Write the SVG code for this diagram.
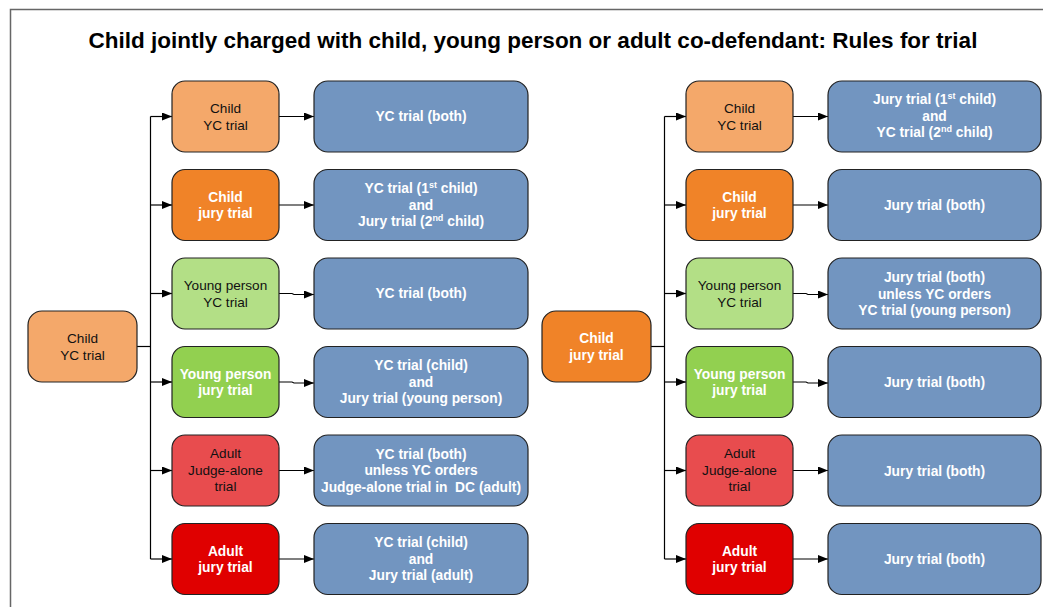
<svg xmlns="http://www.w3.org/2000/svg" width="1043" height="607" viewBox="0 0 1043 607">
<defs>
<marker id="ah" viewBox="0 0 10 8" refX="10" refY="4" markerWidth="10" markerHeight="8" markerUnits="userSpaceOnUse" orient="auto">
<path d="M0,0 L10,4 L0,8 Z" fill="#000"/>
</marker>
</defs>
<style>
.box{stroke:#222;stroke-width:1.2}
.lo{fill:#F4A86A}.or{fill:#F08328}.lg{fill:#B3DF86}.gr{fill:#92D050}.lr{fill:#E84C4E}.rd{fill:#E00000}.bl{fill:#7295C0}
text{font-family:"Liberation Sans",Arial,sans-serif;font-size:13.6px;text-anchor:middle}
.dk{fill:#111}
.wt{fill:#fff;font-weight:bold;font-size:13.8px}
.sup{font-size:9px}
.title{font-size:22.5px;font-weight:bold;fill:#000}
.conn line,.conn path{stroke:#000;stroke-width:1.2;fill:none}
</style>
<rect x="10.5" y="9.5" width="1100" height="700" fill="#fff" stroke="#666" stroke-width="1.5"/>
<text class="title" x="533" y="48">Child jointly charged with child, young person or adult co-defendant: Rules for trial</text>

<g id="connectors" class="conn">
<line x1="137" y1="346.5" x2="150.5" y2="346.5"/>
<line x1="150.5" y1="116.5" x2="150.5" y2="559"/>
<line x1="150.5" y1="116.5" x2="172" y2="116.5" marker-end="url(#ah)"/>
<line x1="150.5" y1="205" x2="172" y2="205" marker-end="url(#ah)"/>
<line x1="150.5" y1="293.5" x2="172" y2="293.5" marker-end="url(#ah)"/>
<line x1="150.5" y1="382" x2="172" y2="382" marker-end="url(#ah)"/>
<line x1="150.5" y1="470.5" x2="172" y2="470.5" marker-end="url(#ah)"/>
<line x1="150.5" y1="559" x2="172" y2="559" marker-end="url(#ah)"/>
<line x1="279" y1="116.5" x2="314" y2="116.5" marker-end="url(#ah)"/>
<line x1="279" y1="205" x2="314" y2="205" marker-end="url(#ah)"/>
<path d="M279,293.5 H292 L294,294.5 H314" marker-end="url(#ah)"/>
<path d="M279,382 H292 L294,383 H314" marker-end="url(#ah)"/>
<line x1="279" y1="470.5" x2="314" y2="470.5" marker-end="url(#ah)"/>
<line x1="279" y1="559" x2="314" y2="559" marker-end="url(#ah)"/>

<line x1="651" y1="346.5" x2="664.5" y2="346.5"/>
<line x1="664.5" y1="116.5" x2="664.5" y2="559"/>
<line x1="664.5" y1="116.5" x2="686" y2="116.5" marker-end="url(#ah)"/>
<line x1="664.5" y1="205" x2="686" y2="205" marker-end="url(#ah)"/>
<line x1="664.5" y1="293.5" x2="686" y2="293.5" marker-end="url(#ah)"/>
<line x1="664.5" y1="382" x2="686" y2="382" marker-end="url(#ah)"/>
<line x1="664.5" y1="470.5" x2="686" y2="470.5" marker-end="url(#ah)"/>
<line x1="664.5" y1="559" x2="686" y2="559" marker-end="url(#ah)"/>
<line x1="793" y1="116.5" x2="828" y2="116.5" marker-end="url(#ah)"/>
<line x1="793" y1="205" x2="828" y2="205" marker-end="url(#ah)"/>
<path d="M793,293.5 H806 L808,294.5 H828" marker-end="url(#ah)"/>
<path d="M793,382 H806 L808,383 H828" marker-end="url(#ah)"/>
<line x1="793" y1="470.5" x2="828" y2="470.5" marker-end="url(#ah)"/>
<line x1="793" y1="559" x2="828" y2="559" marker-end="url(#ah)"/>
</g>

<!-- Left side -->
<g id="L-root"><rect class="box lo" x="28" y="311" width="109" height="71" rx="14"/>
<text class="dk" x="82.5" y="343">Child</text><text class="dk" x="82.5" y="359.5">YC trial</text></g>

<g id="L-m1"><rect class="box lo" x="172" y="81" width="107" height="71" rx="13"/>
<text class="dk" x="225.5" y="113">Child</text><text class="dk" x="225.5" y="129.5">YC trial</text></g>
<g id="L-m2"><rect class="box or" x="172" y="169.5" width="107" height="71" rx="13"/>
<text class="wt" x="225.5" y="201.5">Child</text><text class="wt" x="225.5" y="218">jury trial</text></g>
<g id="L-m3"><rect class="box lg" x="172" y="258" width="107" height="71" rx="13"/>
<text class="dk" x="225.5" y="290">Young person</text><text class="dk" x="225.5" y="306.5">YC trial</text></g>
<g id="L-m4"><rect class="box gr" x="172" y="346.5" width="107" height="71" rx="13"/>
<text class="wt" x="225.5" y="378.5">Young person</text><text class="wt" x="225.5" y="395">jury trial</text></g>
<g id="L-m5"><rect class="box lr" x="172" y="435" width="107" height="71" rx="13"/>
<text class="dk" x="225.5" y="458">Adult</text><text class="dk" x="225.5" y="475">Judge-alone</text><text class="dk" x="225.5" y="491">trial</text></g>
<g id="L-m6"><rect class="box rd" x="172" y="523.5" width="107" height="71" rx="13"/>
<text class="wt" x="225.5" y="555.5">Adult</text><text class="wt" x="225.5" y="572">jury trial</text></g>

<g id="L-r1"><rect class="box bl" x="314" y="81" width="214" height="71" rx="14"/>
<text class="wt" x="421" y="121">YC trial (both)</text></g>
<g id="L-r2"><rect class="box bl" x="314" y="169.5" width="214" height="71" rx="14"/>
<text class="wt" x="421" y="193">YC trial (1<tspan class="sup" dy="-5">st</tspan><tspan dy="5"> child)</tspan></text>
<text class="wt" x="421" y="209.5">and</text>
<text class="wt" x="421" y="226">Jury trial (2<tspan class="sup" dy="-5">nd</tspan><tspan dy="5"> child)</tspan></text></g>
<g id="L-r3"><rect class="box bl" x="314" y="258" width="214" height="71" rx="14"/>
<text class="wt" x="421" y="298">YC trial (both)</text></g>
<g id="L-r4"><rect class="box bl" x="314" y="346.5" width="214" height="71" rx="14"/>
<text class="wt" x="421" y="370">YC trial (child)</text>
<text class="wt" x="421" y="386.5">and</text>
<text class="wt" x="421" y="403">Jury trial (young person)</text></g>
<g id="L-r5"><rect class="box bl" x="314" y="435" width="214" height="71" rx="14"/>
<text class="wt" x="421" y="458.5">YC trial (both)</text>
<text class="wt" x="421" y="475">unless YC orders</text>
<text class="wt" x="421" y="491.5">Judge-alone trial in&#160; DC (adult)</text></g>
<g id="L-r6"><rect class="box bl" x="314" y="523.5" width="214" height="71" rx="14"/>
<text class="wt" x="421" y="547">YC trial (child)</text>
<text class="wt" x="421" y="563.5">and</text>
<text class="wt" x="421" y="580">Jury trial (adult)</text></g>

<!-- Right side -->
<g id="R-root"><rect class="box or" x="542" y="311" width="109" height="71" rx="14"/>
<text class="wt" x="596.5" y="343">Child</text><text class="wt" x="596.5" y="359.5">jury trial</text></g>

<g id="R-m1"><rect class="box lo" x="686" y="81" width="107" height="71" rx="13"/>
<text class="dk" x="739.5" y="113">Child</text><text class="dk" x="739.5" y="129.5">YC trial</text></g>
<g id="R-m2"><rect class="box or" x="686" y="169.5" width="107" height="71" rx="13"/>
<text class="wt" x="739.5" y="201.5">Child</text><text class="wt" x="739.5" y="218">jury trial</text></g>
<g id="R-m3"><rect class="box lg" x="686" y="258" width="107" height="71" rx="13"/>
<text class="dk" x="739.5" y="290">Young person</text><text class="dk" x="739.5" y="306.5">YC trial</text></g>
<g id="R-m4"><rect class="box gr" x="686" y="346.5" width="107" height="71" rx="13"/>
<text class="wt" x="739.5" y="378.5">Young person</text><text class="wt" x="739.5" y="395">jury trial</text></g>
<g id="R-m5"><rect class="box lr" x="686" y="435" width="107" height="71" rx="13"/>
<text class="dk" x="739.5" y="458">Adult</text><text class="dk" x="739.5" y="475">Judge-alone</text><text class="dk" x="739.5" y="491">trial</text></g>
<g id="R-m6"><rect class="box rd" x="686" y="523.5" width="107" height="71" rx="13"/>
<text class="wt" x="739.5" y="555.5">Adult</text><text class="wt" x="739.5" y="572">jury trial</text></g>

<g id="R-r1"><rect class="box bl" x="828" y="81" width="213" height="71" rx="14"/>
<text class="wt" x="934.5" y="104">Jury trial (1<tspan class="sup" dy="-5">st</tspan><tspan dy="5"> child)</tspan></text>
<text class="wt" x="934.5" y="120.5">and</text>
<text class="wt" x="934.5" y="137">YC trial (2<tspan class="sup" dy="-5">nd</tspan><tspan dy="5"> child)</tspan></text></g>
<g id="R-r2"><rect class="box bl" x="828" y="169.5" width="213" height="71" rx="14"/>
<text class="wt" x="934.5" y="209.5">Jury trial (both)</text></g>
<g id="R-r3"><rect class="box bl" x="828" y="258" width="213" height="71" rx="14"/>
<text class="wt" x="934.5" y="282">Jury trial (both)</text>
<text class="wt" x="934.5" y="298.5">unless YC orders</text>
<text class="wt" x="934.5" y="315">YC trial (young person)</text></g>
<g id="R-r4"><rect class="box bl" x="828" y="346.5" width="213" height="71" rx="14"/>
<text class="wt" x="934.5" y="387">Jury trial (both)</text></g>
<g id="R-r5"><rect class="box bl" x="828" y="435" width="213" height="71" rx="14"/>
<text class="wt" x="934.5" y="475.5">Jury trial (both)</text></g>
<g id="R-r6"><rect class="box bl" x="828" y="523.5" width="213" height="71" rx="14"/>
<text class="wt" x="934.5" y="564">Jury trial (both)</text></g>
</svg>
